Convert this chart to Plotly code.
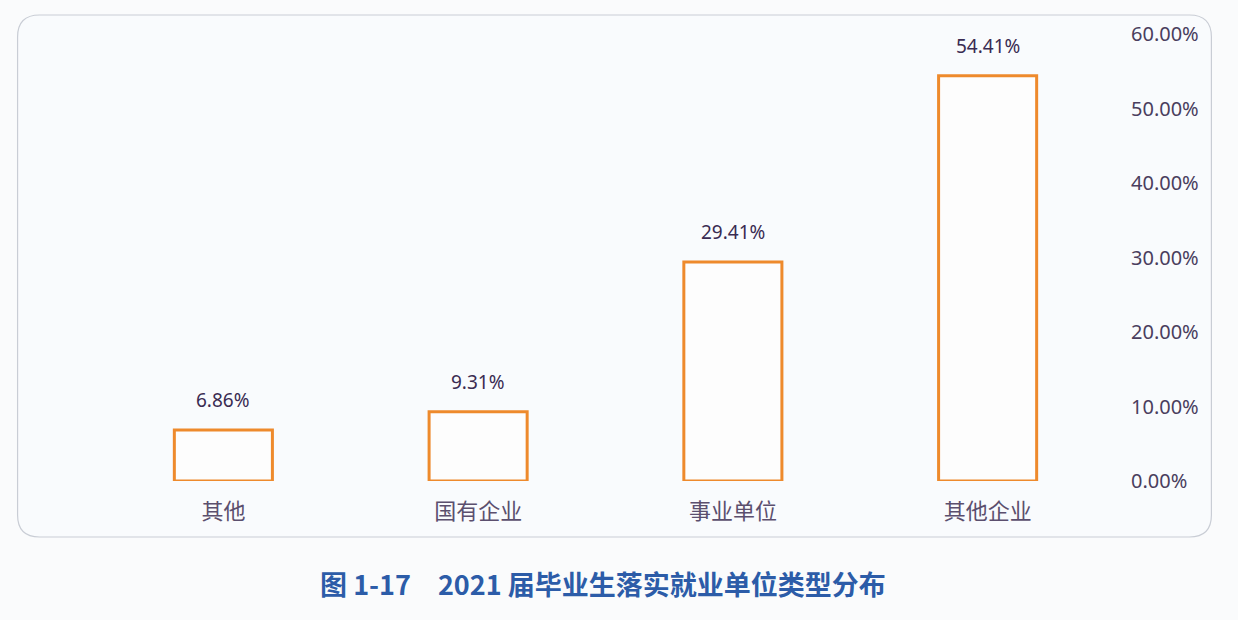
import plotly.graph_objects as go

categories = ["其他", "国有企业", "事业单位", "其他企业"]
shares = [6.86, 9.31, 29.41, 54.41]
y_ticks = [0, 10, 20, 30, 40, 50, 60]
y_tick_labels = ["%.2f%%" % t for t in y_ticks]
title_text = "图 1-17　2021 届毕业生落实就业单位类型分布"

W, H = 1238, 620
L, R, T, B = 95.5, 122.5, 34, 139
pw, ph = W - L - R, H - T - B


def px_to_paper(x, y):
    return (x - L) / pw, (H - B - y) / ph


def rounded_box(x0, y0, x1, y1, r):
    pts = []
    def p(x, y):
        a, b = px_to_paper(x, y)
        return "%.5f,%.5f" % (a, b)
    pts.append("M " + p(x0 + r, y0))
    pts.append("L " + p(x1 - r, y0))
    pts.append("Q " + p(x1, y0) + " " + p(x1, y0 + r))
    pts.append("L " + p(x1, y1 - r))
    pts.append("Q " + p(x1, y1) + " " + p(x1 - r, y1))
    pts.append("L " + p(x0 + r, y1))
    pts.append("Q " + p(x0, y1) + " " + p(x0, y1 - r))
    pts.append("L " + p(x0, y0 + r))
    pts.append("Q " + p(x0, y0) + " " + p(x0 + r, y0))
    return " ".join(pts) + " Z"


fig = go.Figure()
fig.add_trace(go.Bar(
    x=categories, y=shares, width=0.385,
    marker=dict(color="#fdfdfd", line=dict(color="#ee8a2c", width=3)),
    hoverinfo="skip",
))

for c, v in zip(categories, shares):
    fig.add_annotation(x=c, y=v, text="%.2f%%" % v, showarrow=False,
                       yanchor="bottom", yshift=15,
                       font=dict(size=19, color="#3a2b52", family="Noto Sans"))

fig.add_shape(type="path", xref="paper", yref="paper", layer="below",
              path=rounded_box(17, 15, 1212, 537, 22),
              line=dict(color="#c9cdd5", width=1.2), fillcolor="#f9fbfd")

fig.add_annotation(xref="paper", yref="paper",
                   x=px_to_paper(603, 0)[0], y=px_to_paper(0, 583)[1],
                   xanchor="center", yanchor="middle",
                   text="<b>" + title_text + "</b>", showarrow=False,
                   font=dict(size=27, color="#2c5ca8",
                             family="Noto Sans CJK SC"))

fig.update_layout(
    width=W, height=H,
    margin=dict(l=L, r=R, t=T, b=B),
    paper_bgcolor="#fafbfc", plot_bgcolor="rgba(0,0,0,0)",
    showlegend=False, bargap=0.6,
    xaxis=dict(showgrid=False, showline=False, zeroline=False, ticks="",
               ticklabelstandoff=15,
               tickfont=dict(size=22, color="#5b4f6e", family="Noto Sans CJK SC")),
    yaxis=dict(side="right", range=[0, 60], tickvals=y_ticks,
               ticktext=y_tick_labels, showgrid=False, showline=False,
               zeroline=False, ticks="", ticklabelstandoff=15,
               tickfont=dict(size=20, color="#4a3e5e", family="Noto Sans")),
)

fig.write_html("out.html", config={"displayModeBar": False},
               post_script="document.body.style.margin='0';")
